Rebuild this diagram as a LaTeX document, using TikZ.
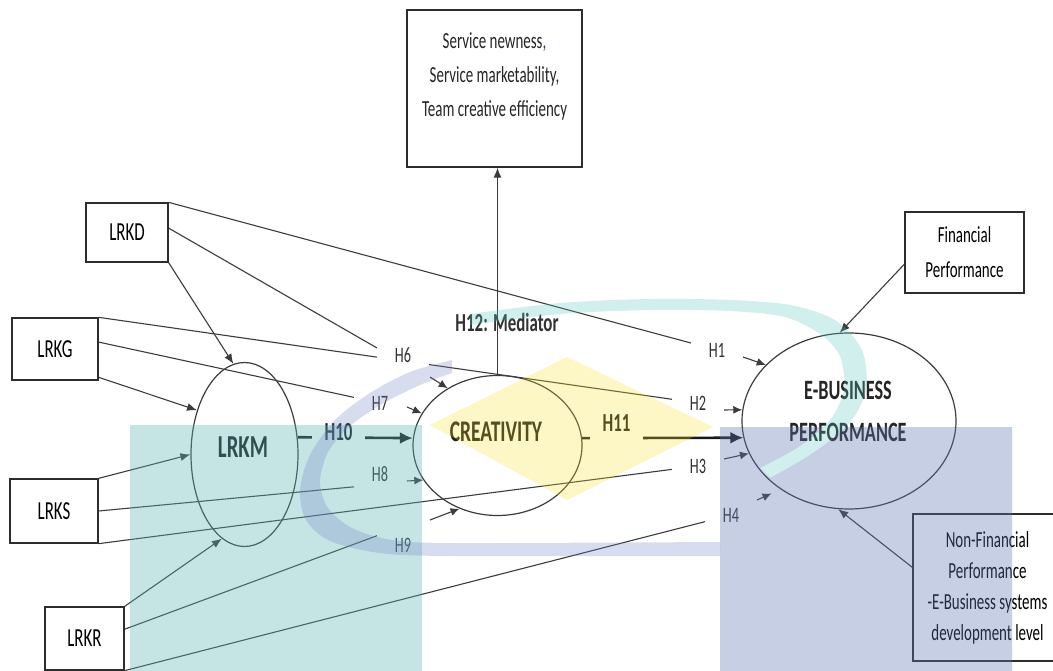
\documentclass[tikz,border=0pt]{standalone}
\usepackage{fontspec}
\setmainfont{Carlito}[FakeStretch=0.65]
\usetikzlibrary{shapes.geometric,arrows.meta}
\pgfdeclarelayer{bg}
\pgfdeclarelayer{lines}
\pgfsetlayers{bg,lines,main}

\definecolor{linec}{RGB}{60,60,60}
\definecolor{boxc}{RGB}{45,45,45}
\definecolor{labc}{RGB}{50,50,50}
\definecolor{wmteal}{RGB}{89,183,183}
\definecolor{wmblue}{RGB}{97,118,178}
\definecolor{wmyellow}{RGB}{251,222,43}
\definecolor{wmpurple}{RGB}{114,126,197}
\definecolor{wmring}{RGB}{83,197,189}
\definecolor{commablue}{RGB}{40,40,220}

\begin{document}
\begin{tikzpicture}[x=1pt,y=-1pt,
  itembox/.style={draw=boxc,line width=1.3pt,fill=white,inner sep=0pt,align=center},
  ell/.style={ellipse,draw=linec,line width=1.2pt,inner sep=0pt},
  hyp/.style={fill=white,inner xsep=17.5pt,inner ysep=5pt,text=labc,font=\fontsize{22}{24}\selectfont},
  hypb/.style={fill=white,inner xsep=12.5pt,inner ysep=10pt,text=black!90,font=\bfseries\fontsize{26}{30}\selectfont},
  conn/.style={draw=linec,line width=1.1pt},
  arr/.style={conn,-{Latex[length=10pt,width=8pt]}},
  tick/.style={conn,-{Latex[length=9pt,width=8pt]}},
  thickarr/.style={draw=black!90,line width=2.6pt,-{Latex[length=13pt,width=12pt]}},
  wm/.style={draw=none,fill opacity=0.35},
  wmsoft/.style={draw=none,fill opacity=0.27},
  tealring/.style={insert path={plot[smooth] coordinates {(470,314) (560,303) (650,299) (730,300) (790,305) (835,320) (862,350) (866,390) (848,425) (810,455) (770,478)} -- plot[smooth] coordinates {(760,468) (800,446) (830,420) (844,390) (840,356) (820,334) (785,317) (730,311) (650,310) (560,314) (470,325)} -- cycle}}
]
\useasboundingbox (0,0) rectangle (1053,671);
\begin{pgfonlayer}{bg}
  \fill[white] (0,0) rectangle (1053,671);
\end{pgfonlayer}

% indicator boxes
\node[itembox,minimum width=175pt,minimum height=157pt] (svcbox) at (494.5,88.5) {};
\node[align=center,font=\fontsize{23}{34}\selectfont,text=black!85] (svctext) at (494.5,76)
  {Service newness\textcolor{commablue}{,}\\Service marketability,\\Team creative efficiency};
\node[itembox,minimum width=82pt,minimum height=59pt,font=\fontsize{26}{30}\selectfont] (lrkd) at (127,232.5) {LRKD};
\node[itembox,minimum width=86pt,minimum height=62pt,font=\fontsize{26}{30}\selectfont] (lrkg) at (55,349) {LRKG};
\node[itembox,minimum width=88pt,minimum height=64pt,font=\fontsize{26}{30}\selectfont] (lrks) at (54,511) {LRKS};
\node[itembox,minimum width=79pt,minimum height=63pt,font=\fontsize{26}{30}\selectfont] (lrkr) at (84.5,638.5) {LRKR};
\node[itembox,minimum width=119pt,minimum height=81pt,font=\fontsize{23}{35}\selectfont] (fin) at (964.5,252.5) {Financial\\Performance};
\node[itembox,minimum width=149pt,minimum height=147pt,font=\fontsize{23}{31}\selectfont] (nonfin) at (987.5,587.5)
  {Non-Financial\\Performance\\-E-Business systems\\development level};

% constructs
\node[ell,minimum width=107pt,minimum height=184pt] (lrkm) at (244.5,454.5) {};
\node[ell,minimum width=169pt,minimum height=140pt] (creat) at (497.5,445.5) {};
\node[ell,minimum width=214pt,minimum height=176pt] (ebiz) at (849,421) {};
\node[font=\bfseries\fontsize{32}{36}\selectfont,text=black!90] (lrkmtext) at (243,447) {LRKM};
\node[font=\bfseries\fontsize{30}{34}\selectfont,text=black!90] (creattext) at (496,432) {CREATIVITY};
\node[align=center,font=\bfseries\fontsize{28}{42}\selectfont,text=black!85] (ebiztext) at (848,411) {E-BUSINESS\\PERFORMANCE};
\node[font=\bfseries\fontsize{26}{30}\selectfont,text=labc] (med) at (507,322) {H12: Mediator};

% hypothesis labels
\node[hyp] (h1) at (717,350) {H1};
\node[hyp] (h2) at (698,403) {H2};
\node[hyp] (h3) at (698,466) {H3};
\node[hyp] (h4) at (731,515) {H4};
\node[hyp] (h6) at (403,355) {H6};
\node[hyp] (h7) at (380,403) {H7};
\node[hyp] (h8) at (380,474) {H8};
\node[hyp] (h9) at (403,545) {H9};
\node[hypb] (h10) at (338.5,432) {H10};
\node[hypb] (h11) at (616.5,423) {H11};

% starts of the short hypothesis arrows
\coordinate (s1) at (743,357);
\coordinate (s2) at (723,410);
\coordinate (s3) at (724,459);
\coordinate (s4) at (757,500);
\coordinate (s6) at (430,377);
\coordinate (s7) at (407,407);
\coordinate (s8) at (407,481);
\coordinate (s9) at (430,520);

\begin{pgfonlayer}{lines}
  \draw[conn] (lrkd.north east) -- (h1);
  \draw[conn] (lrkd.6) -- (h6.165);
  \draw[arr] (lrkd.south east) -- (lrkm.97);
  \draw[conn] (lrkg.north east) -- (h2);
  \draw[conn] (lrkg.9) -- (h7);
  \draw[arr] (lrkg.327) -- (lrkm.137);
  \draw[arr] (lrks.north east) -- (lrkm.west);
  \draw[conn] (lrks.east) -- (h8.south west);
  \draw[conn] (lrks.south east) -- (h3);
  \draw[arr] (lrkr.north east) -- (lrkm.255);
  \draw[conn] (lrkr.13) -- (h9.160);
  \draw[conn] (lrkr.south east) -- (h4);
  \draw[tick] (s6) -- (creat.131);
  \draw[tick] (s7) -- (creat.157);
  \draw[tick] (s8) -- (creat.205);
  \draw[tick] (s9) -- (creat.239);
  \draw[tick] (s1) -- (ebiz.146);
  \draw[tick] (s2) -- (ebiz.174);
  \draw[tick] (s3) -- (ebiz.198);
  \draw[tick,shorten >=10pt] (s4) -- (ebiz.225);
  \draw[thickarr] (lrkm.18) -- (creat.175);
  \draw[thickarr] (creat.5) -- (ebiz.189);
  \draw[arr] (creat.north) -- (creat.north |- svcbox.south);
  \draw[arr] (fin.191) -- (ebiz.96);
  \draw[arr] (nonfin.165) -- (ebiz.263);
\end{pgfonlayer}

% translucent emblem laid over the model
\fill[wm,fill=wmteal] (130,425) rectangle (422,671);
\begin{scope}
  \clip (720,427) rectangle (1012,671);
  \fill[wm,fill=wmblue,even odd rule,tealring] (720,427) rectangle (1012,671);
\end{scope}
\fill[wmsoft,fill=wmyellow] (430,425) -- (567,357) -- (713,427) -- (567,500) -- cycle;
\fill[wmsoft,fill=wmring,tealring];
\fill[wmsoft,fill=wmpurple] plot[smooth] coordinates {(452,360) (410,372) (370,393) (335,420) (310,455) (300,490) (306,520) (330,541) (380,553) (450,556) (720,556)}
  -- plot[smooth] coordinates {(720,542) (455,543) (392,540) (352,528) (328,508) (320,482) (328,452) (350,426) (382,404) (420,385) (452,373)} -- cycle;
\end{tikzpicture}
\end{document}
